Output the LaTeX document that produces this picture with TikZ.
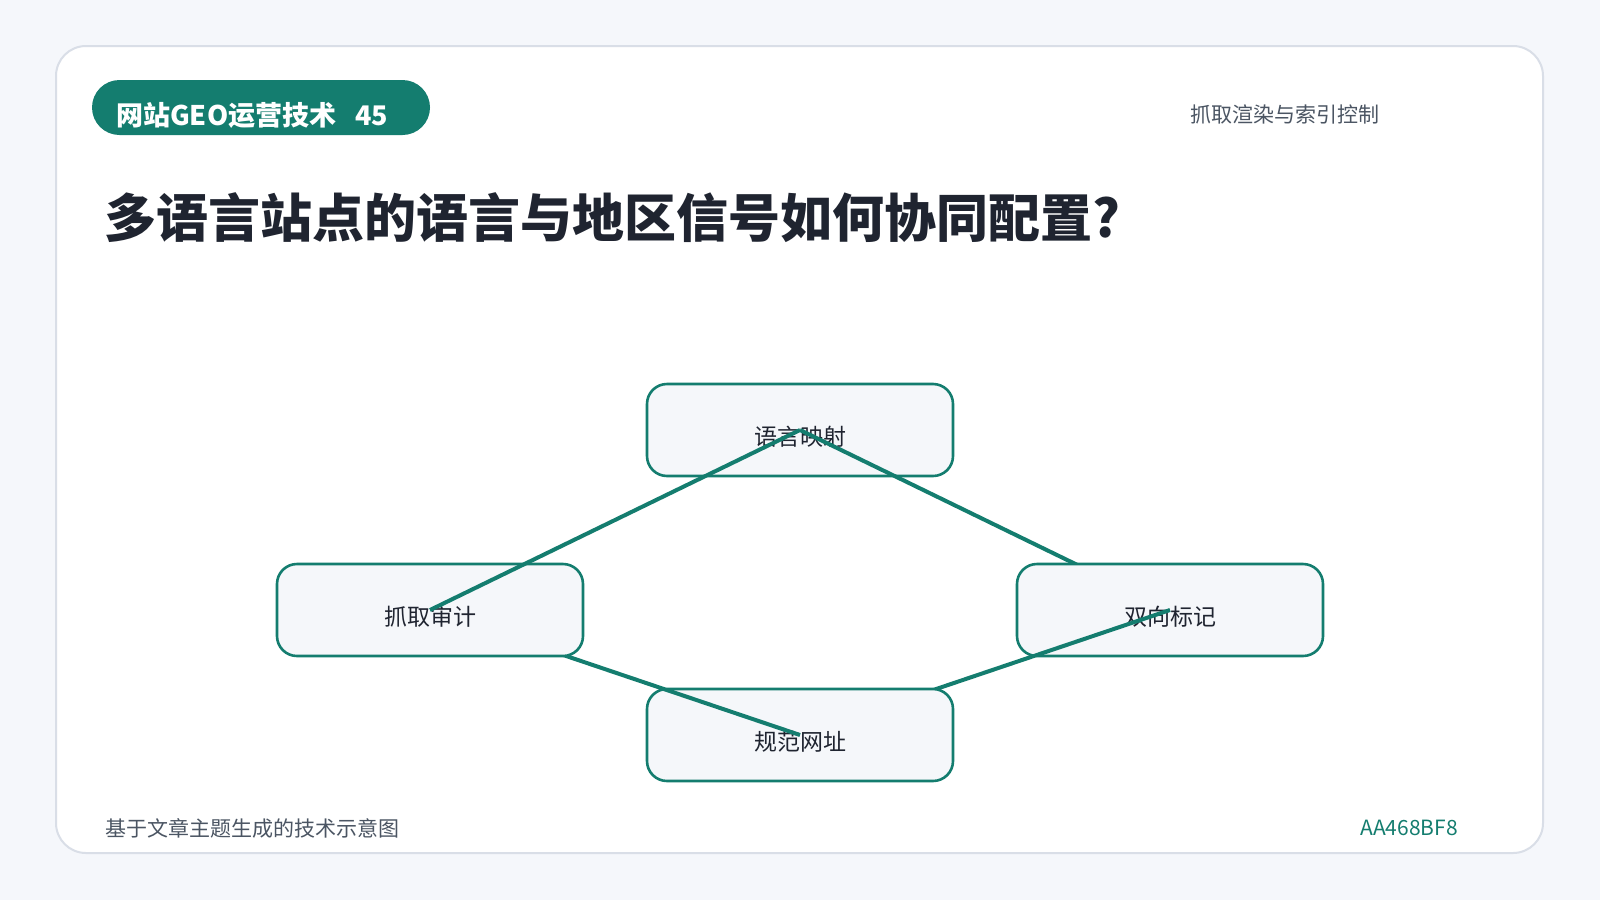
\documentclass[tikz,border=0pt]{standalone}
\usepackage{fontspec}
\setmainfont{Noto Sans CJK SC}
\definecolor{tealc}{HTML}{147D6F}
\definecolor{bgc}{HTML}{F5F7FB}
\definecolor{cardborder}{HTML}{D9DEE7}
\definecolor{nodefill}{HTML}{F5F7FA}
\definecolor{ink}{HTML}{1F2430}
\definecolor{grayt}{HTML}{4B5563}
\tikzset{
  box/.style={draw=tealc, line width=2.6pt, fill=nodefill, rounded corners=20pt,
    minimum width=306pt, minimum height=92pt, inner sep=0pt},
  boxlabel/.style={text=ink, font=\fontsize{23}{26}\selectfont, inner sep=0pt},
  link/.style={draw=tealc, line width=4pt},
}
\begin{document}
\begin{tikzpicture}[x=1pt,y=-1pt]
\useasboundingbox (0,0) rectangle (1600,900);
\fill[bgc] (0,0) rectangle (1600,900);
\draw[cardborder, line width=2pt, fill=white, rounded corners=30pt] (56,46) rectangle (1543,853);
% badge
\fill[tealc, rounded corners=27.5pt] (92,80) rectangle (430,135);
\node[anchor=west, text=white, inner sep=0pt, font=\bfseries\fontsize{27}{30}\selectfont] (badge) at (116,115) {网站GEO运营技术\hspace{0.7em}45};
% header right
\node[anchor=west, text=grayt, inner sep=0pt, font=\fontsize{21}{24}\selectfont] (topic) at (1190,114) {抓取渲染与索引控制};
% title
\node[anchor=west, text=ink, inner sep=0pt, font=\bfseries\fontsize{52}{58}\selectfont] (title) at (104,218) {多语言站点的语言与地区信号如何协同配置?};
% centres
\coordinate (clang) at (800,430);
\coordinate (cbidi) at (1170,610);
\coordinate (ccanon) at (800,735);
\coordinate (ccrawl) at (430,610);
% nodes and links in drawing order
\node[box] (lang) at (clang) {};
\node[boxlabel] (langt) at ([yshift=-7pt]clang) {语言映射};
\draw[link] (lang.center) -- (cbidi);
\node[box] (bidi) at (cbidi) {};
\node[boxlabel] (bidit) at ([yshift=-7pt]cbidi) {双向标记};
\draw[link] (bidi.center) -- (ccanon);
\node[box] (canon) at (ccanon) {};
\node[boxlabel] (canont) at ([yshift=-7pt]ccanon) {规范网址};
\draw[link] (canon.center) -- (ccrawl);
\node[box] (crawl) at (ccrawl) {};
\node[boxlabel] (crawlt) at ([yshift=-7pt]ccrawl) {抓取审计};
\draw[link] (crawl.center) -- (lang.center);
% footer
\node[anchor=west, text=grayt, inner sep=0pt, font=\fontsize{21}{24}\selectfont] (foot) at (105,828) {基于文章主题生成的技术示意图};
\node[anchor=east, text=tealc, inner sep=0pt, font=\fontsize{21}{24}\selectfont] (code) at (1458,828) {AA468BF8};
\end{tikzpicture}
\end{document}
